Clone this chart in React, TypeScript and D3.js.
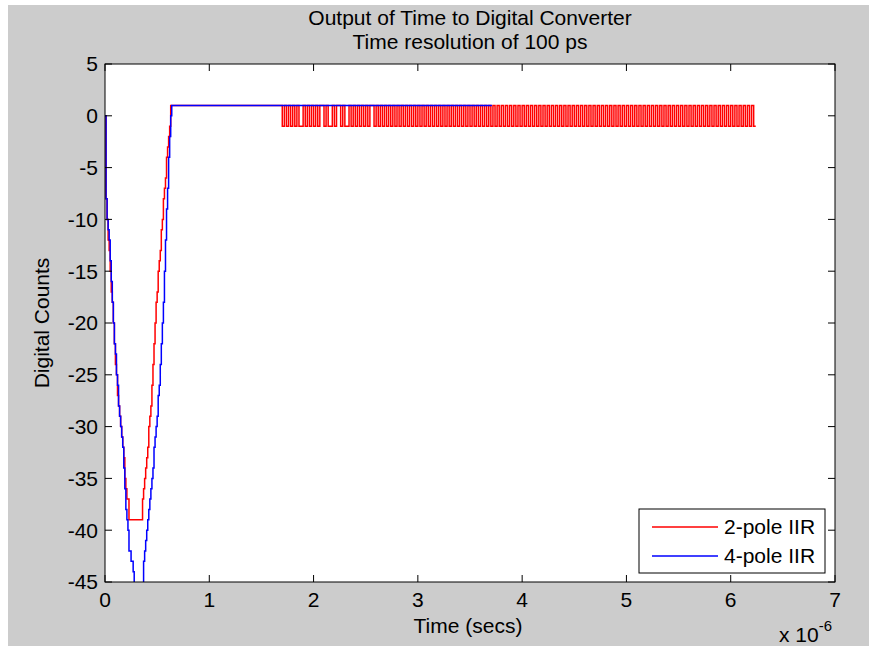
import React from "react";
import * as d3 from "d3";

// ---- data (time in microseconds; axis shows x 10^-6 s) ----
const titleLines = ["Output of Time to Digital Converter", "Time resolution of 100 ps"];
const xTicks = [0, 1, 2, 3, 4, 5, 6, 7];
const yTicks = [-45, -40, -35, -30, -25, -20, -15, -10, -5, 0, 5];
const seriesNames = ["2-pole IIR", "4-pole IIR"];
const seriesColors = ["#ff0000", "#0000ff"];

const sampleStepUs = 0.01;
// transient samples, one every 0.01 us starting at t = 0
const redTransient = [
  0, -8, -10, -12, -13, -15, -17, -18, -20, -22,
  -24, -25, -27, -28, -29, -30, -31, -32, -33, -35,
  -36, -37, -37, -39, -39, -39, -39, -39, -39, -39,
  -39, -39, -39, -39, -39, -39, -37, -36, -35, -34,
  -33, -32, -30, -29, -28, -26, -24, -22, -20, -18,
  -17, -15, -14, -13, -11, -10, -8, -7, -6, -4,
  -3, -2, -1, 1, 1,
];
const blueTransient = [
  0, -8, -10, -11, -12, -14, -16, -18, -20, -22,
  -23, -25, -26, -28, -29, -30, -31, -32, -34, -36,
  -38, -39, -40, -42, -42, -43, -43, -44, -46, -47,
  -47, -48, -48, -48, -47, -47, -46, -43, -42, -41,
  -40, -39, -38, -37, -36, -35, -34, -32, -31, -30,
  -29, -27, -26, -24, -22, -20, -18, -15, -12, -9,
  -7, -4, -2, 0, 1, 1,
];
// red: settled at +1 until toggling starts, then toggles between +1 and -1
const redToggleStartUs = 1.68;
const redToggleStepUs = 0.02;
const redTogglePattern =
  "+-+-+-+-+--+-+-+-+-+" +
  "+-+--+-++-+--+-+-+-+" +
  "-+-++-+-+-+-+-+-+-+-" +
  "+-+-+-+-+-+-+-+-+-+-" +
  "+-+-+-+-+-+-+-+-+-+-" +
  "+-+-+-+-+-+-+-+-+-+-" +
  "+-+-+-+-+-+-+-+-+-+-" +
  "+-+-+-+-+-+-+-+-+-+-" +
  "+-+-+-+-+-+-+-+-+-+-" +
  "+-+-+-+-+-+-+-+-+-+-" +
  "+-+-+-+-+-+-+-+-+-+-" +
  "+-+-+-+-";
const redEndUs = 6.24;
const blueEndUs = 3.71;

type Pt = [number, number];

function buildRed(): Pt[] {
  const pts: Pt[] = redTransient.map((v, i) => [i * sampleStepUs, v] as Pt);
  pts.push([redToggleStartUs, 1]);
  for (let i = 0; i < redTogglePattern.length; i++) {
    pts.push([redToggleStartUs + i * redToggleStepUs, redTogglePattern[i] === "+" ? 1 : -1]);
  }
  pts.push([redEndUs, pts[pts.length - 1][1]]);
  return pts;
}
function buildBlue(): Pt[] {
  const pts: Pt[] = blueTransient.map((v, i) => [i * sampleStepUs, v] as Pt);
  pts.push([blueEndUs, 1]);
  return pts;
}

const W = 873;
const H = 650;
const L = 105, R = 835, T = 64, B = 582;
const FONT = "'Liberation Sans', Arial, sans-serif";
const FS = 21;

export default function App() {
  const x = d3.scaleLinear().domain([0, 7]).range([L, R]);
  const y = d3.scaleLinear().domain([-45, 5]).range([B, T]);
  const line = d3
    .line<Pt>()
    .x((d) => x(d[0]))
    .y((d) => y(d[1]))
    .curve(d3.curveStepAfter);
  const series = [buildRed(), buildBlue()];
  const tickLen = 7;

  return (
    <svg
      width={W}
      height={H}
      style={{ position: "absolute", left: 0, top: 0, background: "#ffffff" }}
      fontFamily={FONT}
    >
      <rect x={8} y={5} width={861} height={641} fill="#cccccc" />
      <defs>
        <clipPath id="plotclip">
          <rect x={L} y={T} width={R - L} height={B - T} />
        </clipPath>
      </defs>
      <rect x={L} y={T} width={R - L} height={B - T} fill="#ffffff" />
      <g clipPath="url(#plotclip)">
        {series.map((s, i) => (
          <path key={i} d={line(s) || ""} fill="none" stroke={seriesColors[i]} strokeWidth={1.5} />
        ))}
      </g>
      <rect x={L} y={T} width={R - L} height={B - T} fill="none" stroke="#000" strokeWidth={1} />
      {xTicks.map((t) => (
        <g key={"x" + t}>
          <line x1={x(t)} x2={x(t)} y1={B} y2={B - tickLen} stroke="#000" />
          <line x1={x(t)} x2={x(t)} y1={T} y2={T + tickLen} stroke="#000" />
          <text x={x(t)} y={607} fontSize={FS} textAnchor="middle" fill="#000">
            {t}
          </text>
        </g>
      ))}
      {yTicks.map((v) => (
        <g key={"y" + v}>
          <line x1={L} x2={L + tickLen} y1={y(v)} y2={y(v)} stroke="#000" />
          <line x1={R} x2={R - tickLen} y1={y(v)} y2={y(v)} stroke="#000" />
          <text x={98} y={y(v)} dy="0.35em" fontSize={FS} textAnchor="end" fill="#000">
            {v}
          </text>
        </g>
      ))}
      {titleLines.map((s, i) => (
        <text key={s} x={(L + R) / 2} y={25 + i * 24} fontSize={FS} textAnchor="middle" fill="#000">
          {s}
        </text>
      ))}
      <text x={(L + R) / 2 - 2} y={633} fontSize={FS} textAnchor="middle" fill="#000">
        Time (secs)
      </text>
      <text
        transform={`translate(49, ${(T + B) / 2}) rotate(-90)`}
        fontSize={FS}
        textAnchor="middle"
        fill="#000"
      >
        Digital Counts
      </text>
      <text x={779} y={642} fontSize={FS} fill="#000">
        x 10
        <tspan dy={-11} fontSize={15}>-6</tspan>
      </text>
      <g>
        <rect x={639} y={509} width={186} height={64} fill="#ffffff" stroke="#000" />
        {seriesNames.map((n, i) => (
          <g key={n}>
            <line x1={652} x2={718} y1={527 + i * 29} y2={527 + i * 29} stroke={seriesColors[i]} strokeWidth={1.3} />
            <text x={724} y={527 + i * 29} dy="0.35em" fontSize={FS} fill="#000">
              {n}
            </text>
          </g>
        ))}
      </g>
    </svg>
  );
}
